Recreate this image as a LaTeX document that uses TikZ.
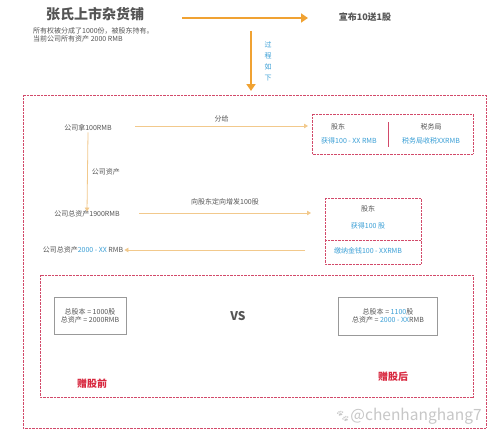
\documentclass[tikz,border=0pt]{standalone}
\usepackage{fontspec}
\setmainfont{Noto Sans CJK SC}
\newfontfamily\emojifont{Noto Emoji}
\usetikzlibrary{arrows.meta}
\definecolor{orgA}{HTML}{F0A232}
\definecolor{orgL}{HTML}{F2C98C}
\definecolor{redD}{HTML}{D24A6A}
\definecolor{blueT}{HTML}{3A9FD6}
\definecolor{redT}{HTML}{D8283F}
\definecolor{txt}{HTML}{555555}
\newcommand{\bl}[1]{\textcolor{blueT}{#1}}
\tikzset{
  every node/.style={text=txt, inner sep=1pt},
  small/.style={font=\fontsize{7}{8.5}\selectfont},
  redbox/.style={draw=redD, dash pattern=on 0.7pt off 0.7pt, line width=0.7pt},
  graybox/.style={draw=black!40, line width=0.6pt},
  bigarrow/.style={draw=orgA, line width=2.6pt, -{Triangle[length=7pt,width=9pt]}},
  thinarrow/.style={draw=orgL, line width=0.8pt, -{Triangle[length=4pt,width=4.5pt]}, color=orgL},
  lbl/.style={font=\fontsize{10}{12}\selectfont\bfseries, text=redT},
}
\begin{document}
\begin{tikzpicture}[x=1pt,y=-1pt]
\useasboundingbox (0,0) rectangle (500,436);
\fill[white] (0,0) rectangle (500,436);

% title
\node (title) at (95,14) {\fontsize{14}{16}\selectfont\bfseries 张氏上市杂货铺};
\node[small, align=left, anchor=west] (sub) at (32,35) {所有权被分成了1000份，被股东持有。\\当前公司所有资产 2000 RMB};
\node (announce) at (365,17) {\fontsize{9}{11}\selectfont\bfseries 宣布10送1股};
\coordinate (a1s) at (182,18);
\coordinate (a1e) at (308,18);
\draw[bigarrow] (a1s) -- (a1e);
\coordinate (a2s) at (251,31);
\coordinate (a2e) at (251,91);
\draw[bigarrow] (a2s) -- (a2e);
\node[font=\fontsize{7}{11}\selectfont, text=blueT, align=center] (proc) at (268,61) {过\\程\\如\\下};

% outer dotted box
\draw[redbox] (23,95) rectangle (486,428);

% left column
\node[small] (take) at (88,128) {公司拿100RMB};
\node[small] (total1900) at (87,214) {公司总资产1900RMB};
\node[small] (total2000) at (83,250) {公司总资产\bl{2000 - XX} RMB};

% top right box
\draw[redbox] (312,114) rectangle (473,154);
\draw[draw=redD, line width=0.9pt] (388,122) -- (388,147);
\node[small] (sh1) at (338,127) {股东};
\node[small, text=blueT] (sh1b) at (349,141) {获得100 - XX RMB};
\node[small] (tax) at (431,127) {税务局};
\node[small, text=blueT] (taxb) at (431,141) {税务局收税XXRMB};

% lower right box
\draw[redbox] (325,198) rectangle (421,264);
\draw[redbox] (325,240) -- (421,240);
\node[small] (sh2) at (368,209) {股东};
\node[small, text=blueT] (sh2b) at (368,226) {获得100 股};
\node[small, text=blueT] (pay) at (368,251) {缴纳金钱100 - XXRMB};

% arrows
\coordinate (fenS) at (135,126);
\coordinate (fenE) at (308,126);
\draw[thinarrow] (fenS) -- node[above=3pt, small, text=txt] {分给} (fenE);
\draw[thinarrow] (take.south) -- node[right=3pt, small, text=txt] {公司资产} ([yshift=-2pt]total1900.north);
\coordinate (incS) at (139,213);
\coordinate (incE) at (311,213);
\draw[thinarrow] (incS) -- node[above=7pt, small, text=txt] {向股东定向增发100股} (incE);
\coordinate (retS) at (305,250);
\draw[thinarrow] (retS) -- (total2000.east);

% inner box
\draw[redbox] (40,275) rectangle (473,397);
\draw[graybox] (54,297) rectangle (126,334);
\node[small, align=center] (before) at (90,316) {总股本 = 1000股\\总资产 = 2000RMB};
\node (vs) at (238,316) {\fontsize{12}{14}\selectfont\bfseries VS};
\draw[graybox] (338,297) rectangle (437,335);
\node[small, align=center] (after) at (388,316) {总股本 = \bl{1100}股\\总资产 = \bl{2000 - XX}RMB};
\node[lbl] (lb1) at (92,384) {赠股前};
\node[lbl] (lb2) at (393,377) {赠股后};

% watermark
\node[text=black!22, anchor=west] (wm) at (334,416) {{\emojifont\fontsize{12}{14}\selectfont 🐾}\fontsize{15.5}{18}\selectfont @chenhanghang7};
\end{tikzpicture}
\end{document}
